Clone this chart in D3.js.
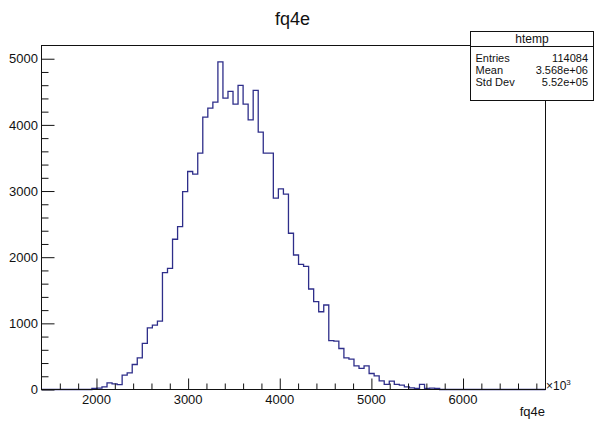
<!DOCTYPE html>
<html>
<head>
<meta charset="utf-8">
<script src="https://cdn.jsdelivr.net/npm/d3@7"></script>
<style>
  body { margin: 0; background: #fff; }
  text { font-family: "Liberation Sans", Arial, sans-serif; fill: #111; }
</style>
</head>
<body>
<div id="chart"></div>
<script>
// histogram binning (x in units of 10^3)
var binLow = 1400
var binHigh = 6900
var nBins = 100

// bin contents
var counts = [
  0, 0, 0, 0, 0, 0, 0, 0, 0, 0,
  15, 20, 40, 100, 85, 75, 216, 250, 378, 479,
  696, 933, 973, 1034, 1766, 1832, 2271, 2462, 2992, 3295,
  3255, 3573, 4118, 4254, 4345, 4951, 4406, 4506, 4315, 4597,
  4315, 4077, 4521, 3891, 3573, 3573, 2892, 3033, 2952, 2362,
  2033, 1892, 1860, 1519, 1327, 1175, 1277, 740, 730, 620,
  479, 458, 358, 318, 358, 242, 206, 131, 76, 126,
  76, 66, 40, 25, 15, 76, 15, 20, 15, 0,
  0, 0, 0, 0, 0, 0, 0, 0, 0, 0,
  0, 0, 0, 0, 0, 0, 0, 0, 0, 0
]

var xTicks = [2000, 3000, 4000, 5000, 6000]
var yTicks = [0, 1000, 2000, 3000, 4000, 5000]
var statLabels = ["Entries", "Mean", "Std Dev"]
var statValues = ["114084", "3.568e+06", "5.52e+05"]

var width = 594
var height = 421

var svg = d3.select("#chart")
            .append("svg")
            .attr("width", width)
            .attr("height", height)

var frame = {left: 41.5, right: 545.5, top: 45.5, bottom: 389.5}

var x = d3.scaleLinear()
          .domain([binLow, binHigh])
          .range([frame.left, frame.right])

var y = d3.scaleLinear()
          .domain([0, 5200])
          .range([frame.bottom, frame.top])

var binWidth = (binHigh - binLow) / nBins

//Histogram step outline
var pts = [[binLow, 0]]
counts.forEach(function (c, i) {
    pts.push([binLow + i * binWidth, c])
    pts.push([binLow + (i + 1) * binWidth, c])
})
pts.push([binHigh, 0])

svg.append("path")
   .attr("d", d3.line().x(d => x(d[0])).y(d => y(d[1]))(pts))
   .attr("fill", "none")
   .attr("stroke", "#2e2e8a")
   .attr("stroke-width", 1.3)

//Frame
svg.append("rect")
   .attr("x", frame.left)
   .attr("y", frame.top)
   .attr("width", frame.right - frame.left)
   .attr("height", frame.bottom - frame.top)
   .attr("fill", "none")
   .attr("stroke", "#111")
   .attr("stroke-width", 1)

//X axis: major + minor ticks
var xAxis = d3.axisTop(x)
              .tickValues(xTicks)
              .tickSize(11)
              .tickFormat("")
var xMinor = d3.axisTop(x)
               .tickValues(d3.range(1600, 6900, 200).filter(v => v % 1000 !== 0))
               .tickSize(6)
               .tickFormat("")

svg.append("g").attr("transform", "translate(0," + frame.bottom + ")").call(xAxis)
svg.append("g").attr("transform", "translate(0," + frame.bottom + ")").call(xMinor)

//Y axis: major + minor ticks
var yAxis = d3.axisRight(y)
              .tickValues(yTicks)
              .tickSize(13)
              .tickFormat("")
var yMinor = d3.axisRight(y)
               .tickValues(d3.range(200, 5200, 200).filter(v => v % 1000 !== 0))
               .tickSize(7)
               .tickFormat("")

svg.append("g").attr("transform", "translate(" + frame.left + ",0)").call(yAxis)
svg.append("g").attr("transform", "translate(" + frame.left + ",0)").call(yMinor)

svg.selectAll(".domain").remove()
svg.selectAll(".tick line").attr("stroke", "#111")

//Tick labels
svg.append("g")
   .selectAll("text")
   .data(xTicks)
   .enter()
   .append("text")
   .attr("x", d => x(d))
   .attr("y", 404)
   .style("text-anchor", "middle")
   .style("font-size", "13px")
   .text(d => d)

svg.append("g")
   .selectAll("text")
   .data(yTicks)
   .enter()
   .append("text")
   .attr("x", 38)
   .attr("y", d => y(d))
   .attr("dy", "0.36em")
   .style("text-anchor", "end")
   .style("font-size", "13px")
   .text(d => d)

//x10^3 exponent
var expo = svg.append("text")
              .attr("x", 546)
              .attr("y", 390)
              .style("font-size", "12px")
expo.append("tspan").text("\u00d710")
expo.append("tspan").attr("dy", -5).style("font-size", "8px").text("3")

//Axis title
svg.append("text")
   .attr("x", 545)
   .attr("y", 416)
   .style("text-anchor", "end")
   .style("font-size", "13px")
   .text("fq4e")

//Title
svg.append("text")
   .attr("x", 292.5)
   .attr("y", 25)
   .style("text-anchor", "middle")
   .style("font-size", "18px")
   .text("fq4e")

//Stats box
var box = {x: 470.5, y: 31.5, w: 123, h: 69}
svg.append("rect")
   .attr("x", box.x)
   .attr("y", box.y)
   .attr("width", box.w)
   .attr("height", box.h)
   .attr("fill", "#fff")
   .attr("stroke", "#111")
   .attr("stroke-width", 1)

svg.append("line")
   .attr("x1", box.x).attr("x2", box.x + box.w)
   .attr("y1", 46.5).attr("y2", 46.5)
   .attr("stroke", "#111")

svg.append("text")
   .attr("x", box.x + box.w / 2)
   .attr("y", 43)
   .style("text-anchor", "middle")
   .style("font-size", "12px")
   .text("htemp")

svg.append("g")
   .selectAll("text")
   .data(statLabels)
   .enter()
   .append("text")
   .attr("x", 475.5)
   .attr("y", (d, i) => 62 + i * 12)
   .style("font-size", "11px")
   .text(d => d)

svg.append("g")
   .selectAll("text")
   .data(statValues)
   .enter()
   .append("text")
   .attr("x", 588)
   .attr("y", (d, i) => 62 + i * 12)
   .style("text-anchor", "end")
   .style("font-size", "11px")
   .text(d => d)
</script>
</body>
</html>
